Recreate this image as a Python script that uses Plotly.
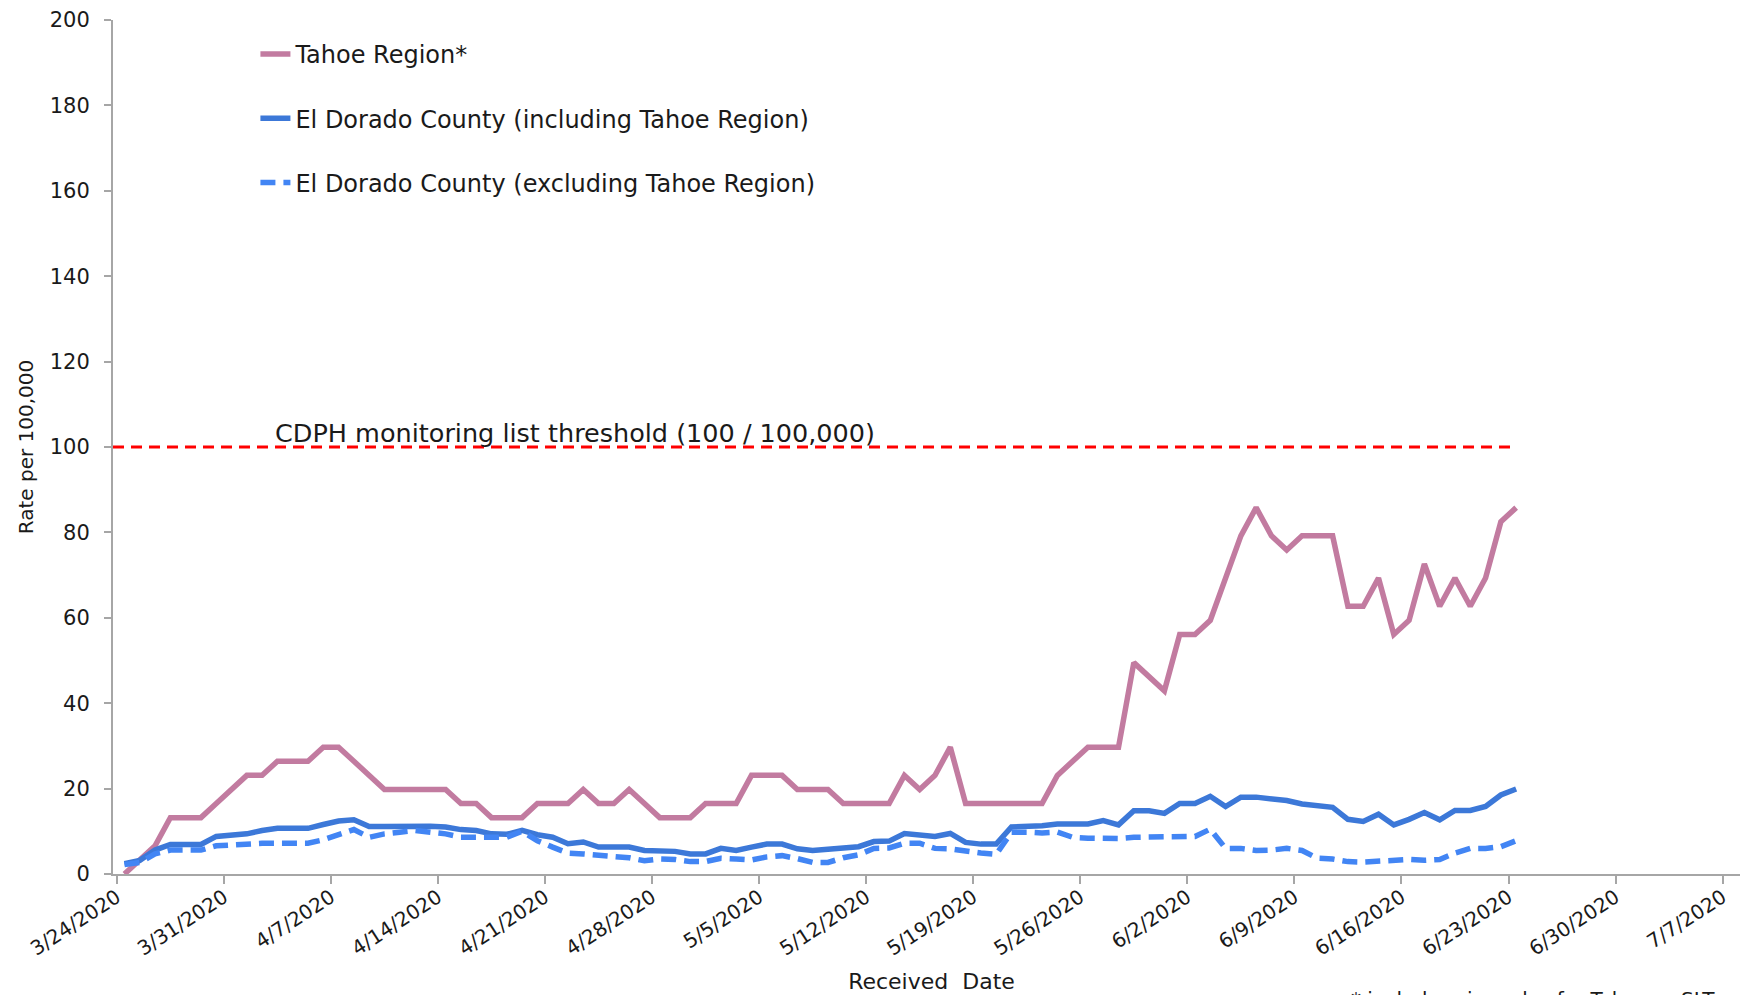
import pandas as pd
import plotly.graph_objects as go

# ---- data (one value per received date, starting 3/24/2020) ----
START_DATE = "2020-03-24"

tahoe_region = [
    0.0, 3.3, 6.6, 13.2, 13.2, 13.2, 16.5, 19.8, 23.1, 23.1,
    26.4, 26.4, 26.4, 29.7, 29.7, 26.4, 23.1, 19.8, 19.8, 19.8,
    19.8, 19.8, 16.5, 16.5, 13.2, 13.2, 13.2, 16.5, 16.5, 16.5,
    19.8, 16.5, 16.5, 19.8, 16.5, 13.2, 13.2, 13.2, 16.5, 16.5,
    16.5, 23.1, 23.1, 23.1, 19.8, 19.8, 19.8, 16.5, 16.5, 16.5,
    16.5, 23.1, 19.8, 23.1, 29.7, 16.5, 16.5, 16.5, 16.5, 16.5,
    16.5, 23.1, 26.4, 29.7, 29.7, 29.7, 49.5, 46.2, 42.9, 56.1,
    56.1, 59.4, 69.3, 79.2, 85.8, 79.2, 75.9, 79.2, 79.2, 79.2,
    62.7, 62.7, 69.3, 56.1, 59.4, 72.6, 62.7, 69.3, 62.7, 69.3,
    82.5, 85.8,
]

county_incl = [
    2.4, 3.2, 5.6, 6.9, 6.9, 6.9, 8.8, 9.1, 9.4, 10.2,
    10.7, 10.7, 10.7, 11.6, 12.4, 12.7, 11.1, 11.1, 11.1, 11.4,
    11.2, 11.0, 10.4, 10.2, 9.4, 9.3, 10.2, 9.2, 8.6, 7.1,
    7.5, 6.3, 6.3, 6.3, 5.5, 5.5, 5.3, 4.7, 4.7, 6.0,
    5.5, 6.3, 7.0, 7.0, 5.9, 5.5, 5.8, 5.8, 6.4, 7.6,
    7.7, 9.5, 9.2, 8.8, 9.5, 7.4, 7.0, 7.0, 11.0, 11.0,
    11.3, 11.7, 11.7, 11.7, 12.5, 11.5, 14.8, 14.8, 14.2, 16.5,
    16.5, 18.2, 15.8, 18.0, 18.0, 17.6, 17.2, 16.4, 16.0, 15.6,
    12.8, 12.3, 14.0, 11.5, 12.8, 14.4, 12.7, 14.9, 14.9, 15.8,
    18.5, 19.9,
]

county_excl = [
    2.2, 2.7, 4.7, 5.6, 5.6, 5.6, 6.6, 6.9, 6.9, 7.2,
    7.2, 7.2, 7.2, 8.0, 9.2, 10.4, 8.6, 9.4, 9.8, 10.2,
    9.8, 9.4, 8.6, 8.5, 8.6, 8.6, 10.0, 7.8, 6.3, 4.9,
    4.7, 4.5, 4.3, 3.8, 3.1, 3.5, 3.4, 2.9, 2.9, 3.7,
    3.5, 3.3, 4.0, 4.3, 3.6, 2.7, 2.7, 3.8, 4.5, 6.0,
    6.1, 7.2, 7.2, 6.0, 5.9, 5.3, 4.9, 4.6, 9.8, 9.8,
    9.6, 9.8, 8.6, 8.4, 8.3, 8.3, 8.6, 8.6, 8.8, 8.8,
    8.8, 10.5, 6.0, 6.0, 5.5, 5.6, 6.0, 5.5, 3.7, 3.5,
    2.9, 2.8, 3.1, 3.1, 3.4, 3.2, 3.4, 4.9, 6.0, 6.0,
    6.4, 7.8,
]

THRESHOLD = 100
THRESHOLD_LABEL = "CDPH monitoring list threshold (100 / 100,000)"

TICK_DATES = [
    "2020-03-24", "2020-03-31", "2020-04-07", "2020-04-14", "2020-04-21",
    "2020-04-28", "2020-05-05", "2020-05-12", "2020-05-19", "2020-05-26",
    "2020-06-02", "2020-06-09", "2020-06-16", "2020-06-23", "2020-06-30",
    "2020-07-07",
]
TICK_LABELS = [
    "3/24/2020", "3/31/2020", "4/7/2020", "4/14/2020", "4/21/2020",
    "4/28/2020", "5/5/2020", "5/12/2020", "5/19/2020", "5/26/2020",
    "6/2/2020", "6/9/2020", "6/16/2020", "6/23/2020", "6/30/2020",
    "7/7/2020",
]
X_RANGE = ["2020-03-23 18:00", "2020-07-08 19:00"]
Y_TICKS = list(range(0, 201, 20))

NAMES = [
    "Tahoe Region*",
    "El Dorado County (including Tahoe Region)",
    "El Dorado County (excluding Tahoe Region)",
]
Y_TITLE = "Rate per 100,000"
X_TITLE = "Received  Date"
FOOTNOTE = "* includes zip codes for Tahoma, SLT"

# ---- figure ----
# points sit in the middle of each date slot
dates = pd.date_range(START_DATE, periods=len(tahoe_region), freq="D") + pd.Timedelta(hours=12)

FONT = "DejaVu Sans, Arial, sans-serif"
TXT = "#1a1a1a"
AXIS = "#a6a6a6"

fig = go.Figure()
fig.add_trace(go.Scatter(
    x=dates, y=tahoe_region, mode="lines", name=NAMES[0], legendgroup="a",
    line=dict(color="#C27BA0", width=5.5),
))
fig.add_trace(go.Scatter(
    x=dates, y=county_incl, mode="lines", name=NAMES[1], legendgroup="b",
    line=dict(color="#3C78D8", width=5.5),
))
fig.add_trace(go.Scatter(
    x=dates, y=county_excl, mode="lines", name=NAMES[2], legendgroup="c",
    line=dict(color="#4285F4", width=5.5, dash="15px,8px"),
))

fig.add_shape(
    type="line", xref="x", yref="y",
    x0=X_RANGE[0], x1=dates[-1], y0=THRESHOLD, y1=THRESHOLD,
    line=dict(color="#FF0000", width=3, dash="11px,7px"),
)
fig.add_annotation(
    text=THRESHOLD_LABEL, xref="paper", yref="y",
    x=0.098, y=THRESHOLD, xanchor="left", yanchor="bottom", yshift=-3,
    showarrow=False, font=dict(family=FONT, size=25.5, color=TXT),
)
fig.add_annotation(
    text=Y_TITLE, xref="paper", yref="paper",
    x=-0.053, y=0.5, xanchor="center", yanchor="middle", textangle=-90,
    showarrow=False, font=dict(family=FONT, size=20, color=TXT),
)
fig.add_annotation(
    text=FOOTNOTE, xref="paper", yref="paper",
    x=0.755, y=-0.130, xanchor="left", yanchor="top",
    showarrow=False, font=dict(family=FONT, size=20, color=TXT),
)

fig.update_layout(
    width=1748, height=995,
    margin=dict(l=105, r=6, t=12, b=129),
    paper_bgcolor="white", plot_bgcolor="white",
    font=dict(family=FONT, size=20, color=TXT),
    hovermode=False,
    legend=dict(
        x=0.087, y=0.986, xanchor="left", yanchor="top",
        bgcolor="rgba(0,0,0,0)", font=dict(family=FONT, size=24, color=TXT),
        tracegroupgap=30, itemwidth=30,
    ),
    xaxis=dict(
        type="date", range=X_RANGE, automargin=False,
        tickvals=TICK_DATES, ticktext=TICK_LABELS, tickangle=-33,
        showgrid=False, zeroline=False,
        showline=True, linecolor=AXIS, linewidth=2,
        ticks="outside", ticklen=8, tickwidth=2, tickcolor=AXIS,
        ticklabelstandoff=-6,
        tickfont=dict(family=FONT, size=20, color=TXT),
        title=dict(text=X_TITLE, font=dict(family=FONT, size=22, color=TXT), standoff=14),
    ),
    yaxis=dict(
        range=[0, 200], tickvals=Y_TICKS, automargin=False,
        showgrid=False, zeroline=False,
        showline=True, linecolor=AXIS, linewidth=2,
        ticks="outside", ticklen=7, tickwidth=2, tickcolor=AXIS,
        ticklabelstandoff=10,
        tickfont=dict(family=FONT, size=21, color=TXT),
    ),
)

fig.write_html("out.html")
